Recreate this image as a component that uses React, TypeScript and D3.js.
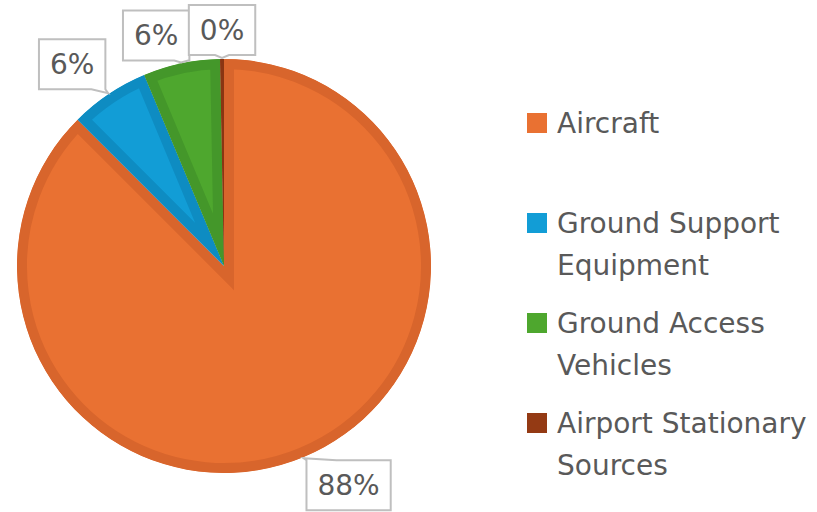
import React from "react";
import * as d3 from "d3";

const categories = ["Aircraft", "Ground Support Equipment", "Ground Access Vehicles", "Airport Stationary Sources"];
const legendLines = [["Aircraft"], ["Ground Support", "Equipment"], ["Ground Access", "Vehicles"], ["Airport Stationary", "Sources"]];
const values = [87.5, 6.2, 6.0, 0.3];
const colors = ["#E97132", "#129DD6", "#4EA72E", "#943A14"];
const bandColors = ["#D8652C", "#0E8CC2", "#44972A", "#8A3512"];
// label box offsets from the slice's outer mid point
const labelOffsets: [number, number][] = [[45, 27], [-36, -29], [-25, -27], [0, -28]];

const W = 817, H = 512;
const CX = 224, CY = 266, R = 207;
const FONT = "'DejaVu Sans', sans-serif";

function measure(t: string, size: number) {
  const c = document.createElement("canvas").getContext("2d")!;
  c.font = `${size}px 'DejaVu Sans'`;
  return c.measureText(t).width;
}

function callout(cx: number, cy: number, w: number, h: number, ax: number, ay: number, tw: number) {
  const l = cx - w / 2, r = cx + w / 2, t = cy - h / 2, b = cy + h / 2;
  const clamp = (v: number, lo: number, hi: number) => Math.max(lo, Math.min(hi, v));
  if (ay > b) {
    const b0 = clamp(ax - tw / 2, l, r - tw);
    return `M${l},${t}H${r}V${b}H${b0 + tw}L${ax},${ay}L${b0},${b}H${l}Z`;
  }
  const b0 = clamp(ax - tw / 2, l, r - tw);
  return `M${l},${t}H${b0}L${ax},${ay}L${b0 + tw},${t}H${r}V${b}H${l}Z`;
}

export default function App() {
  const pie = d3.pie<number>().sort(null).value((d) => d);
  const arcs = pie(values);
  const arc = d3.arc<d3.PieArcDatum<number>>().innerRadius(0).outerRadius(R);
  const total = d3.sum(values);
  const outer = (a: d3.PieArcDatum<number>) => {
    const m = (a.startAngle + a.endAngle) / 2;
    return [Math.sin(m) * (R + 1), -Math.cos(m) * (R + 1)];
  };
  return (
    <svg width={W} height={H} style={{ position: "absolute", left: 0, top: 0, background: "#fff" }}>
      <defs>
        {arcs.map((a, i) => (
          <clipPath id={`clip${i}`} key={i}>
            <path d={arc(a)!} />
          </clipPath>
        ))}
      </defs>
      <g transform={`translate(${CX},${CY})`}>
        {arcs.map((a, i) => (
          <path key={i} d={arc(a)!} fill={colors[i]} stroke={bandColors[i]} strokeWidth={20} clipPath={`url(#clip${i})`} />
        ))}
        {arcs.map((a, i) => {
          const [ax, ay] = outer(a);
          const label = `${Math.round((values[i] / total) * 100)}%`;
          const w = measure(label, 28) + 22;
          const h = 50;
          const bx = ax + labelOffsets[i][0];
          const by = ay + labelOffsets[i][1];
          return (
            <g key={`l${i}`}>
              <path d={callout(bx, by, w, h, ax, ay, i === 0 ? 30 : 14)} fill="#fff" stroke="#BFBFBF" strokeWidth={2} />
              <text x={bx} y={by + 10} textAnchor="middle" fontFamily={FONT} fontSize={28} fill="#595959">{label}</text>
            </g>
          );
        })}
      </g>
      <g>
        {categories.map((c, i) => {
          const y0 = 133 + i * 100;
          return (
            <g key={c}>
              <rect x={527} y={y0 - 20} width={20} height={20} fill={colors[i]} />
              {legendLines[i].map((ln, j) => (
                <text key={j} x={557} y={y0 + j * 42} fontFamily={FONT} fontSize={28} fill="#595959">{ln}</text>
              ))}
            </g>
          );
        })}
      </g>
    </svg>
  );
}
